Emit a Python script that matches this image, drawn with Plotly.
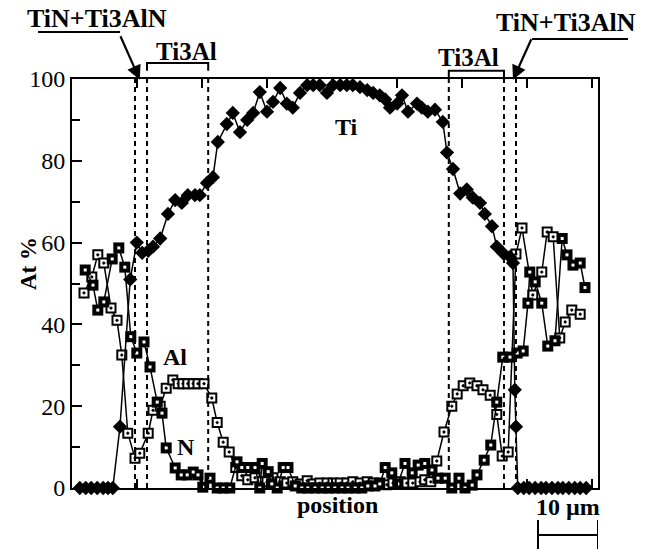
import plotly.graph_objects as go

# position in micrometres, composition in at.%
ti_x = [1.3, 2.3, 3.2, 4.2, 5.2, 6.0, 6.8, 8.0, 9.7, 10.8,
        11.7, 12.7, 13.5, 14.7, 16.0, 17.2, 18.3, 19.3, 20.5, 21.3,
        22.5, 23.5, 24.3, 25.8, 26.8, 28.0, 29.2, 30.2, 31.3, 32.5,
        33.5, 34.7, 35.8, 36.8, 38.0, 39.2, 40.2, 41.3, 42.5, 43.5,
        44.7, 45.8, 46.8, 48.0, 49.2, 50.2, 51.3, 52.2, 53.0, 54.2,
        55.0, 56.0, 57.5, 58.3, 59.3, 60.5, 61.8, 62.5, 63.5, 64.7,
        65.8, 66.8, 68.0, 68.8, 70.0, 70.8, 71.8, 73.0, 73.5, 73.8,
        74.0, 74.3, 75.3, 76.2, 77.2, 78.2, 79.0, 80.0, 81.0, 81.8,
        82.8, 83.8, 84.7, 85.7]
ti_y = [0, 0, 0, 0, 0, 0, 0, 15, 51, 60,
        57.5, 58, 59, 61, 67, 70.4, 69.7, 71.6, 71.6, 71.6,
        74.6, 76, 84.6, 89, 91.7, 87, 90, 91.7, 96.8, 92,
        94.4, 97.8, 94, 93, 96.6, 98.5, 98.5, 98.5, 96.6, 98.5,
        98.5, 98.5, 98.5, 98, 97.3, 96.6, 96, 95, 93, 94,
        96, 92, 94, 93, 92, 92.5, 89.5, 82, 78, 72,
        73, 71, 69.7, 67, 64, 59, 57.5, 56.5, 55, 24,
        15, 0, 0, 0, 0, 0, 0, 0, 0, 0,
        0, 0, 0, 0]

al_x = [2.0, 3.3, 4.3, 5.3, 6.5, 7.5, 8.3, 9.3, 10.5, 11.3,
        12.7, 13.5, 14.7, 15.7, 16.8, 17.7, 18.5, 19.3, 20.2, 21.0,
        22.0, 23.3, 24.2, 25.2, 26.2, 27.3, 28.3, 29.3, 30.5, 31.7,
        32.5, 33.5, 34.7, 35.8, 36.8, 38.0, 39.2, 40.2, 41.3, 42.5,
        43.5, 44.7, 45.8, 46.8, 48.0, 49.2, 50.2, 51.3, 52.5, 53.5,
        54.7, 55.8, 56.8, 58.0, 58.8, 59.8, 60.8, 62.0, 63.3, 64.2,
        65.2, 66.3, 67.5, 68.5, 69.7, 70.8, 71.7, 72.7, 74.0, 75.0,
        76.8, 78.3, 79.2, 80.2, 81.3, 82.2, 83.3, 84.7]
al_y = [47.7, 51.6, 57, 55, 44, 41, 32.5, 13.4, 7.3, 8.5,
        13.4, 19, 20, 24.4, 26.4, 25.5, 25.5, 25.5, 25.5, 25.5,
        25.5, 22, 16, 11.2, 8.8, 5, 3, 2, 2.5, 1.5,
        1.5, 2.5, 1.5, 1.2, 1.5, 1.0, 1.8, 1.0, 1.2, 1.2,
        1.2, 1.2, 1.2, 1.5, 1.2, 1.5, 1.2, 1.2, 0.8, 1.2,
        1.5, 1.2, 1.2, 1.5, 2.0, 1.5, 6.6, 13.7, 20, 23,
        25, 25.7, 25, 24, 22.7, 18, 7.8, 8.8, 57.2, 63.6,
        47.2, 52.8, 62.6, 61.4, 36.7, 40.6, 43.5, 42.5]

n_x = [2.2, 3.5, 4.3, 5.3, 6.7, 7.8, 8.8, 9.8, 10.8, 12.0,
       13.0, 14.2, 15.0, 15.7, 17.2, 18.2, 19.2, 20.2, 21.0, 21.8,
       23.0, 24.2, 25.2, 26.3, 27.5, 28.3, 29.3, 30.5, 31.3, 31.7,
       32.7, 33.3, 34.2, 35.2, 36.0, 37.2, 38.3, 39.3, 40.5, 41.7,
       42.7, 43.8, 45.0, 46.0, 47.2, 48.3, 49.3, 50.5, 51.3, 52.2,
       53.3, 54.3, 55.5, 56.7, 57.7, 58.8, 60.0, 61.0, 62.2, 63.3,
       64.5, 65.5, 66.7, 67.5, 68.7, 69.8, 70.8, 71.8, 73.0, 74.2,
       75.2, 76.0, 76.3, 77.2, 78.3, 79.3, 80.5, 81.7, 82.5, 83.5,
       84.7, 85.5]
n_y = [53.3, 49.6, 43.5, 45.5, 56, 58.7, 54, 37, 33, 35.7,
       29.6, 21, 18.3, 9.8, 4.9, 3.2, 3.2, 3.9, 3.2, 0.2,
       2.4, 0, 0, 0, 6.4, 5, 5, 5, 0, 6,
       4, 1, 0, 5, 5, 0.5, 0, 0, 0, 0,
       0, 0, 0, 0, 0, 0, 0.5, 0.5, 1, 5,
       3.7, 1, 6, 3.7, 5.6, 6, 4.4, 2.4, 2.4, 0,
       2.4, 0, 0.7, 3.2, 6.8, 10.5, 21, 32, 32, 33,
       33.5, 45.2, 52.8, 50.4, 45.2, 34.7, 36, 61, 57, 54.5,
       55, 49]

# phase boundaries (dashed lines), micrometres
boundaries = [10.5, 12.5, 22.7, 62.8, 72.0, 74.0]
x_top_ticks = [10.83, 21.67, 32.5, 43.33, 54.17, 65.0, 75.83, 86.67]
scale_bar = [77.67, 87.67]  # 10 um

SERIF = "Liberation Serif"
X_MAX = 87.67

fig = go.Figure()

fig.add_trace(go.Scatter(
    x=al_x, y=al_y, mode="lines+markers", cliponaxis=False,
    line=dict(color="black", width=1.5),
    marker=dict(symbol="square-dot", size=9, color="white",
                line=dict(color="black", width=2)),
    name="Al", showlegend=False))

fig.add_trace(go.Scatter(
    x=n_x, y=n_y, mode="lines+markers", cliponaxis=False,
    line=dict(color="black", width=1.5),
    marker=dict(symbol="square", size=11, color="black",
                line=dict(width=0)),
    name="N", showlegend=False))
fig.add_trace(go.Scatter(
    x=n_x, y=n_y, mode="markers", cliponaxis=False, hoverinfo="skip",
    marker=dict(symbol="square", size=3, color="white", line=dict(width=0)),
    showlegend=False))

fig.add_trace(go.Scatter(
    x=ti_x, y=ti_y, mode="lines+markers", cliponaxis=False,
    line=dict(color="black", width=1.5),
    marker=dict(symbol="diamond", size=11, color="black", line=dict(width=0)),
    name="Ti", showlegend=False))

shapes = []
for b in boundaries:
    shapes.append(dict(type="line", xref="x", yref="y", x0=b, x1=b, y0=0, y1=100,
                       line=dict(color="black", width=2, dash="5px,4px")))

# brackets for Ti3Al regions
for (a, b, ytop, ybot) in [(boundaries[1], boundaries[2], 1.039, 1.020),
                           (boundaries[3], boundaries[4], 1.020, 1.005)]:
    shapes.append(dict(type="path", xref="x", yref="paper",
                       path=f"M {a} {ybot} L {a} {ytop} L {b} {ytop} L {b} {ybot}",
                       line=dict(color="black", width=2)))

# underlines for TiN+Ti3AlN labels
shapes.append(dict(type="line", xref="paper", yref="paper", x0=-0.0646, x1=0.0913,
                   y0=1.115, y1=1.115, line=dict(color="black", width=2)))
shapes.append(dict(type="line", xref="paper", yref="paper", x0=0.8745, x1=1.057,
                   y0=1.098, y1=1.098, line=dict(color="black", width=2)))

# scale bar
shapes.append(dict(type="line", xref="x", yref="paper", x0=scale_bar[0], x1=scale_bar[1],
                   y0=-0.115, y1=-0.115, line=dict(color="black", width=2)))
for sx in scale_bar:
    shapes.append(dict(type="line", xref="x", yref="paper", x0=sx, x1=sx,
                       y0=-0.078, y1=-0.149, line=dict(color="black", width=2)))

bold = dict(family=SERIF, size=24, color="black")
big = dict(family=SERIF, size=26, color="black")


def label(text, x, y, xref="paper", yref="paper", font=bold, **kw):
    return dict(text=text, xref=xref, yref=yref, x=x, y=y, showarrow=False,
                xanchor="center", yanchor="middle", font=font, **kw)


annotations = [
    label("<b>TiN+Ti3AlN</b>", 0.0475, 1.149, font=big),
    label("<b>TiN+Ti3AlN</b>", 0.939, 1.139, font=big),
    label("<b>Ti3Al</b>", 0.2186, 1.068, font=dict(family=SERIF, size=25, color="black")),
    label("<b>Ti3Al</b>", 0.753, 1.053, font=dict(family=SERIF, size=25, color="black")),
    dict(text="", xref="x", yref="y", x=11.3, y=99.8, ax=-20, ay=-45,
         showarrow=True, arrowhead=2, arrowsize=1.3, arrowwidth=2.2,
         arrowcolor="black", standoff=0),
    dict(text="", xref="x", yref="y", x=73.5, y=99.8, ax=19, ay=-42,
         showarrow=True, arrowhead=2, arrowsize=1.3, arrowwidth=2.2,
         arrowcolor="black", standoff=0),
    label("<b>Ti</b>", 45.8, 88.3, xref="x", yref="y"),
    label("<b>Al</b>", 17.2, 32, xref="x", yref="y"),
    label("<b>N</b>", 19.0, 10, xref="x", yref="y"),
    label("<b>At %</b>", -0.0837, 0.55, textangle=-90,
          font=dict(family=SERIF, size=23, color="black")),
    label("<b>position</b>", 0.504, -0.0416),
    label("<b>10 µm</b>", 0.943, -0.046),
]

fig.update_layout(
    width=650, height=549,
    margin=dict(l=72, r=52, t=79, b=61),
    paper_bgcolor="white", plot_bgcolor="white",
    shapes=shapes, annotations=annotations,
    xaxis=dict(range=[0, X_MAX], showgrid=False, zeroline=False,
               showline=True, linecolor="black", linewidth=2, mirror="ticks",
               ticks="inside", tickvals=x_top_ticks, ticklen=9, tickwidth=1.5,
               tickcolor="black", showticklabels=False),
    yaxis=dict(range=[0, 100], showgrid=False, zeroline=False,
               showline=True, linecolor="black", linewidth=2, mirror=True,
               ticks="inside", tickvals=[0, 20, 40, 60, 80, 100], ticklen=10,
               tickwidth=1.5, tickcolor="black",
               tickfont=dict(family=SERIF, size=24, color="black"),
               minor=dict(tickvals=[10, 30, 50, 70, 90], ticks="inside",
                          ticklen=8, tickwidth=1.5, tickcolor="black")),
)

fig.write_html("out.html")
